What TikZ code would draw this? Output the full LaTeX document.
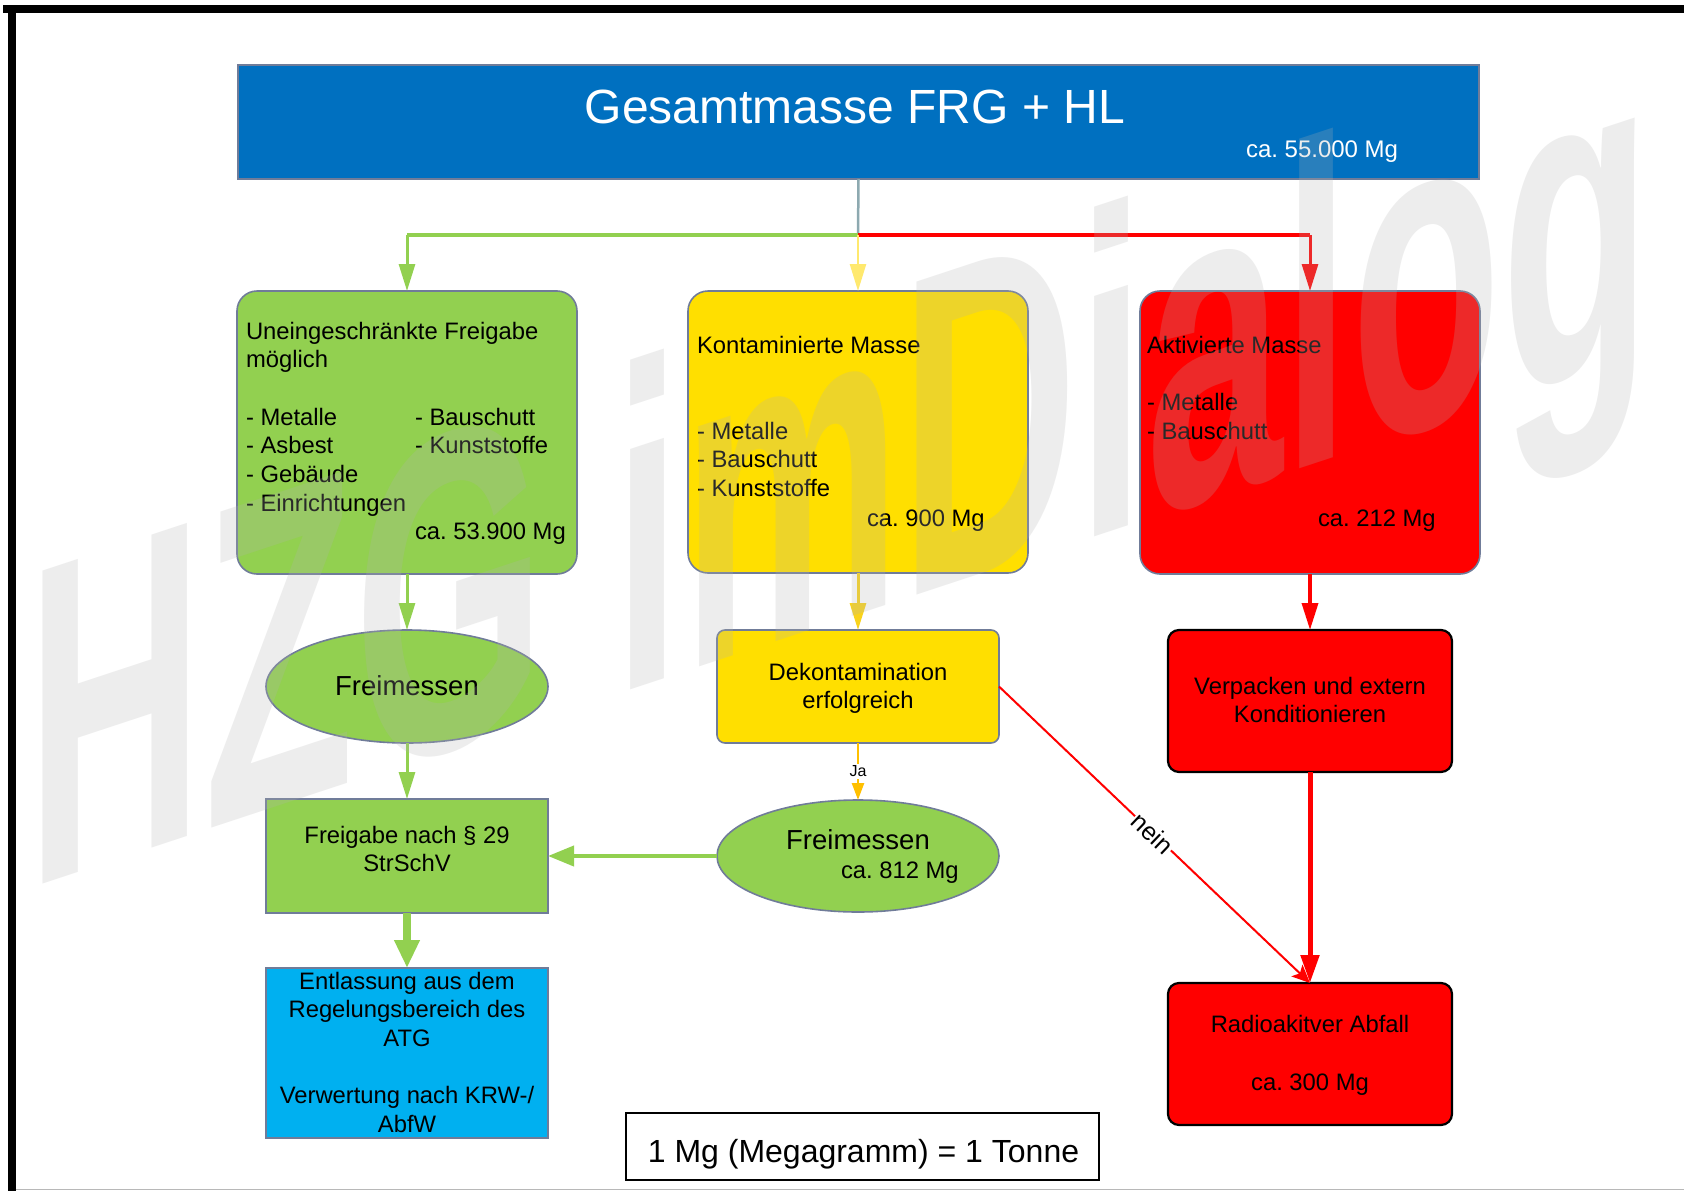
\documentclass[tikz,border=0pt]{standalone}
\usepackage{fontspec}
\setmainfont{Liberation Sans}
\usetikzlibrary{arrows.meta,shapes.geometric}
\definecolor{tblue}{HTML}{0070C0}
\definecolor{grn}{HTML}{92D050}
\definecolor{yel}{HTML}{FFDF00}
\definecolor{rd}{HTML}{FF0000}
\definecolor{cyn}{HTML}{00B0F0}
\definecolor{bord}{HTML}{707C99}
\definecolor{stemc}{HTML}{8DA9B0}
\definecolor{lyel}{HTML}{FFE96E}
\definecolor{goldc}{HTML}{F9D31C}
\definecolor{amber}{HTML}{FFC000}
\newcommand\fsN{\fontsize{23.8}{28.7}\selectfont}
\newcommand\fsE{\fontsize{27.5}{32}\selectfont}
\tikzset{
  shp/.style={draw=bord, line width=1.6pt, inner sep=0pt, outer sep=0pt},
  rbox/.style={shp, rectangle, rounded corners=20pt},
  sbox/.style={shp, rectangle, rounded corners=8pt},
  kbox/.style={shp, draw=black, line width=2.2pt, rectangle, rounded corners=11pt, fill=rd},
  ell/.style={shp, ellipse, fill=grn},
  txt/.style={inner sep=0pt, outer sep=0pt, font=\fsN},
  tipA/.style={-{Triangle[length=27pt,width=16pt]}},
}
\begin{document}
\frenchspacing
\begin{tikzpicture}[x=1pt,y=-1pt]
\useasboundingbox (0,0) rectangle (1684,1191);
\fill[white] (0,0) rectangle (1684,1191);
% frame
\fill[black] (3,5) rectangle (1684,13);
\fill[black] (8,5) rectangle (16,1191);
\draw[black!28, line width=1.5pt] (16,1189.5) -- (1684,1189.5);

% nodes
\node[shp, rectangle, fill=tblue, minimum width=1241pt, minimum height=114pt] (top) at (858.5,122) {};
\node[txt, text=white, font=\fontsize{48}{56}\selectfont, anchor=base] (toptxt) at (855,123) {Gesamtmasse FRG + HL};
\node[txt, text=white, font=\fontsize{24}{28}\selectfont, anchor=base west] (toptot) at (1246,157) {ca. 55.000 Mg};

\node[rbox, fill=grn, minimum width=340pt, minimum height=283pt] (gbox) at (407,432.5) {};
\node[rbox, fill=yel, minimum width=340pt, minimum height=282pt] (ybox) at (858,432) {};
\node[rbox, fill=rd, minimum width=340pt, minimum height=283pt] (rbox) at (1310,432.5) {};

\node[ell, minimum width=282pt, minimum height=113pt] (frei1) at (407,686.5) {};
\node[shp, rectangle, fill=grn, minimum width=282pt, minimum height=114pt] (freig) at (407,856) {};
\node[sbox, fill=yel, minimum width=282pt, minimum height=113pt] (dekon) at (858,686.5) {};
\node[ell, minimum width=282pt, minimum height=112pt] (frei2) at (858,856) {};
\node[shp, rectangle, fill=cyn, minimum width=282pt, minimum height=170pt] (entl) at (407,1053) {};
\node[draw=black, line width=1.5pt, rectangle, minimum width=473pt, minimum height=67pt, inner sep=0pt] (legend) at (862.5,1146.5) {};
\node[kbox, minimum width=284pt, minimum height=142pt] (verp) at (1310,701) {};
\node[kbox, minimum width=284pt, minimum height=142pt] (radio) at (1310,1054) {};

% connectors
\coordinate (split) at (858,235);
\draw[stemc, line width=2.5pt] (top.south) -- (split);
\draw[grn, line width=3.5pt] (split) -- (407,235);
\draw[grn, line width=3pt, tipA] (407,235) -- (gbox.north);
\draw[rd, line width=3.5pt] (split) -- (1310,235);
\draw[rd, line width=3pt, tipA] (1310,235) -- (rbox.north);
\draw[lyel, line width=2.5pt, tipA] (split) -- (ybox.north);

\draw[grn, line width=3pt, tipA] (gbox.south) -- (frei1.north);
\draw[grn, line width=3pt, tipA] (frei1.south) -- (freig.north);
\draw[grn, line width=8pt, -{Triangle[length=28pt,width=24pt]}] (freig.south) -- (entl.north);
\draw[grn, line width=4pt, -{Triangle[length=26pt,width=20pt]}] (frei2.west) -- (freig.east);
\draw[goldc, line width=3pt, tipA] (ybox.south) -- (dekon.north);
\draw[amber, line width=2.5pt, -{Triangle[length=17pt,width=12pt]}] (dekon.south) -- node[pos=0.5, fill=white, inner sep=1.5pt, text=black, font=\fontsize{16}{18}\selectfont] (ja) {Ja} (frei2.north);
\draw[rd, line width=2pt, -{Stealth[length=18pt,width=16pt,inset=4pt]}] (dekon.east) -- node[pos=0.495, sloped, fill=white, inner sep=1pt, text=black, font=\fontsize{25}{28}\selectfont] (nein) {nein} (radio.north);
\draw[rd, line width=3.5pt, tipA] (rbox.south) -- (verp.north);
\draw[rd, line width=5pt, -{Triangle[length=28pt,width=18pt]}] (verp.south) -- (radio.north);

% texts
\node[txt, anchor=base west] (gt1) at (246,339) {\begin{tabular}[t]{@{}l@{}}Uneingeschränkte Freigabe\\möglich\\ \\- Metalle\\- Asbest\\- Gebäude\\- Einrichtungen\end{tabular}};
\node[txt, anchor=base west] (gt2) at (415,425) {\begin{tabular}[t]{@{}l@{}}- Bauschutt\\- Kunststoffe\end{tabular}};
\node[txt, anchor=base west] (gt3) at (415,539) {ca. 53.900 Mg};

\node[txt, anchor=base west] (yt1) at (697,353) {\begin{tabular}[t]{@{}l@{}}Kontaminierte Masse\\ \\ \\- Metalle\\- Bauschutt\\- Kunststoffe\end{tabular}};
\node[txt, anchor=base west] (yt2) at (867,526) {ca. 900 Mg};

\node[txt, anchor=base west] (rt1) at (1147,353) {\begin{tabular}[t]{@{}l@{}}Aktivierte Masse\\ \\- Metalle\\- Bauschutt\end{tabular}};
\node[txt, anchor=base west] (rt2) at (1318,526) {ca. 212 Mg};

\node[txt, font=\fsE, anchor=base] (f1t) at (407,695) {Freimessen};
\node[txt, anchor=base] (fgt) at (407,843) {\begin{tabular}[t]{@{}c@{}}Freigabe nach § 29\\StrSchV\end{tabular}};
\node[txt, anchor=base] (dkt) at (858,680) {\begin{tabular}[t]{@{}c@{}}Dekontamination\\erfolgreich\end{tabular}};
\node[txt, font=\fsE, anchor=base] (f2t) at (858,849) {Freimessen};
\node[txt, anchor=base west] (f2m) at (841,878) {ca. 812 Mg};
\node[txt, anchor=base] (ent) at (407,989) {\begin{tabular}[t]{@{}c@{}}Entlassung aus dem\\Regelungsbereich des\\ATG\\ \\Verwertung nach KRW-/\\AbfW\end{tabular}};
\node[txt, font=\fontsize{32}{36}\selectfont, anchor=base] (legt) at (863.5,1162) {1 Mg (Megagramm) = 1 Tonne};
\node[txt, anchor=base] (vpt) at (1310,694) {\begin{tabular}[t]{@{}c@{}}Verpacken und extern\\Konditionieren\end{tabular}};
\node[txt, anchor=base] (rat1) at (1310,1032) {Radioakitver Abfall};
\node[txt, anchor=base] (rat2) at (1310,1090) {ca. 300 Mg};

% watermark
\node[anchor=base west, inner sep=0pt, outer sep=0pt, text=black!30, text opacity=0.23,
      font=\fontsize{455}{455}\selectfont\bfseries, yslant=0.33, xscale=0.54] (wm) at (27,889) {HZG imDialog};
\end{tikzpicture}
\end{document}
